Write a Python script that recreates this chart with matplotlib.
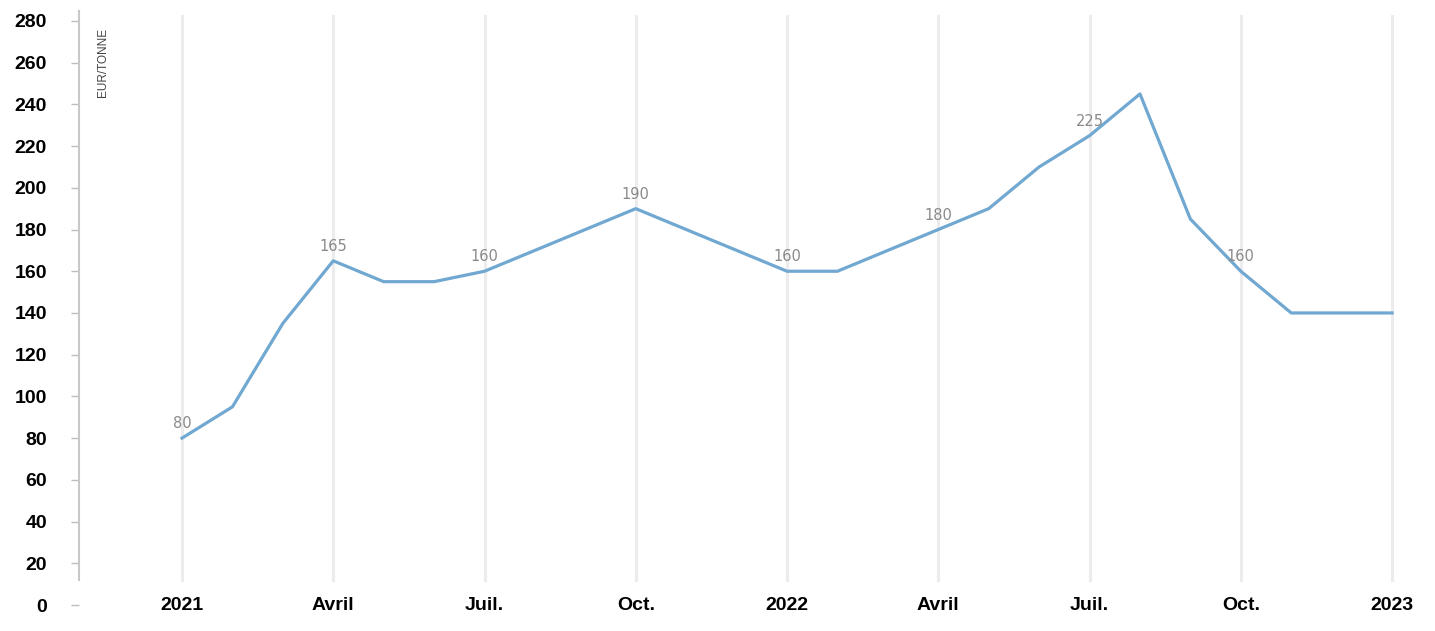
import matplotlib
matplotlib.use("Agg")
import matplotlib.pyplot as plt

# Monthly prices, Jan 2021 .. Jan 2023 (EUR/tonne)
months = list(range(25))
prices = [80, 95, 135, 165, 155, 155, 160, 170, 180, 190, 180, 170,
          160, 160, 170, 180, 190, 210, 225, 245, 185, 160, 140, 140, 140]
label_idx = [0, 3, 6, 9, 12, 15, 18, 21]
tick_pos = [0, 3, 6, 9, 12, 15, 18, 21, 24]
tick_labels = ["2021", "Avril", "Juil.", "Oct.", "2022", "Avril", "Juil.", "Oct.", "2023"]
y_ticks = list(range(0, 281, 20))

W, H = 1435, 631
fig = plt.figure(figsize=(W / 100, H / 100), dpi=100)
left, right, bottom, top = 79, 1420, 605, 15
ax = fig.add_axes([left / W, (H - bottom) / H, (right - left) / W, (bottom - top) / H])

x0 = -103 / 50.42
ax.set_xlim(x0, x0 + (right - left) / 50.42)
ymax = (bottom - top) / 2.086
ax.set_ylim(0, ymax)

for p in tick_pos:
    ax.axvline(p, ymin=12 / ymax, ymax=1, color="#ececef", lw=2.2, zorder=0)

ax.plot(months, prices, color="#70a8d1", lw=2.3, zorder=3)
for i in label_idx:
    ax.annotate(str(prices[i]), (months[i], prices[i]), xytext=(0, 5),
                textcoords="offset points", ha="center", va="bottom",
                color="#8a8a8a", fontsize=10.5, family="DejaVu Sans")

for s in ["top", "right", "bottom"]:
    ax.spines[s].set_visible(False)
ax.spines["left"].set_bounds(12, ymax + 2)
ax.spines["left"].set_color("#c8c8c8")
ax.spines["left"].set_linewidth(1.5)

ax.set_yticks(y_ticks)
ax.set_yticklabels([str(v) for v in y_ticks], fontsize=14, fontweight="bold",
                   family="Liberation Sans")
ax.tick_params(axis="y", length=6, width=1, color="#bdbdbd", pad=17)

ax.set_xticks(tick_pos)
ax.set_xticklabels(tick_labels, fontsize=14, fontweight="bold", family="Liberation Sans")
ax.tick_params(axis="x", length=0, pad=-5.5)

fig.text(103 / W, 1 - 28 / H, "EUR/TONNE", rotation=90, ha="center", va="top",
         fontsize=8.5, color="#444444", family="Liberation Sans")

fig.savefig("out.png", dpi=100)
